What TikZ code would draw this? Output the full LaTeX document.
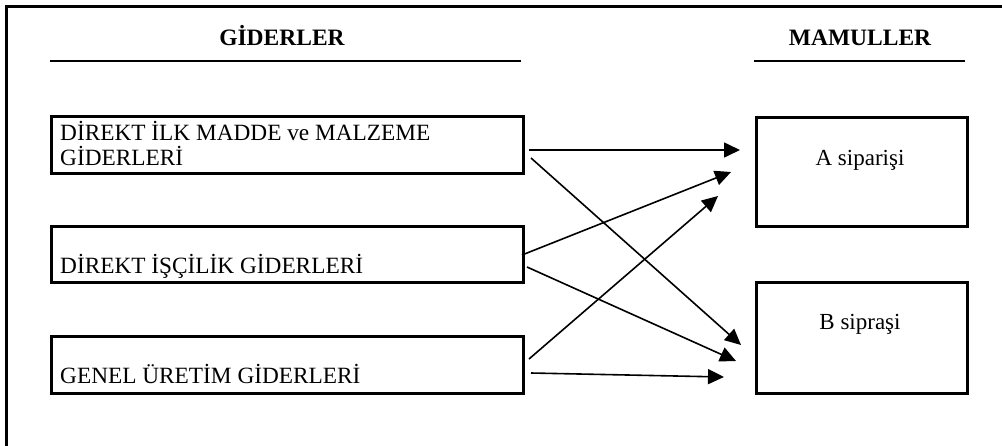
\documentclass[tikz,border=0pt]{standalone}
\usepackage{fontspec}
\setmainfont{Liberation Serif}
\usetikzlibrary{arrows.meta}
\tikzset{
  box/.style={draw, line width=2.8pt, inner sep=0pt},
  lbl/.style={inner sep=0pt, anchor=base west, font=\fontsize{23.3}{27}\selectfont},
  clbl/.style={inner sep=0pt, anchor=base, font=\fontsize{23}{27}\selectfont},
  head/.style={inner sep=0pt, anchor=base, font=\fontsize{23.5}{27}\selectfont\bfseries},
  rule/.style={line width=2pt},
  flow/.style={line width=1.6pt, -{Triangle[length=16pt,width=15pt]}},
}
\begin{document}
\begin{tikzpicture}[x=1pt,y=-1pt]
\useasboundingbox (0,0) rectangle (1002,445);
% frame
\draw[line width=3pt] (6.5,446) -- (6.5,6.5) -- (1003,6.5);

% headings
\node[head] (hg) at (282,45) {GİDERLER};
\node[head] (hm) at (860,45) {MAMULLER};
\draw[rule] (50,61) -- (521,61);
\draw[rule] (754,61) -- (965,61);

% cost boxes
\node[box, minimum width=472pt, minimum height=57pt, anchor=north west] (d1) at (50,115) {};
\node[box, minimum width=472pt, minimum height=56pt, anchor=north west] (d2) at (50,225) {};
\node[box, minimum width=472pt, minimum height=57pt, anchor=north west] (d3) at (50,335) {};
\node[lbl] (t1a) at (60,140) {DİREKT İLK MADDE ve MALZEME};
\node[lbl] (t1b) at (60,165.5) {GİDERLERİ};
\node[lbl] (t2) at (60,273) {DİREKT İŞÇİLİK GİDERLERİ};
\node[lbl] (t3) at (60,383) {GENEL ÜRETİM GİDERLERİ};

% product boxes
\node[box, line width=3pt, minimum width=211pt, minimum height=109pt, anchor=north west] (pa) at (755,116) {};
\node[box, line width=3pt, minimum width=211pt, minimum height=111pt, anchor=north west] (pb) at (755,281) {};
\node[clbl] (ta) at (860,165.5) {A siparişi};
\node[clbl] (tb) at (860,329) {B sipraşi};

% arrow end points
\coordinate (s1a) at (529,150);  \coordinate (e1a) at (740,150);
\coordinate (s1b) at (531,158);  \coordinate (e1b) at (741,345);
\coordinate (s2a) at (522,255);  \coordinate (e2a) at (731,172);
\coordinate (s2b) at (527,267);  \coordinate (e2b) at (736,361);
\coordinate (s3a) at (529,359);  \coordinate (e3a) at (718,196);
\coordinate (s3b) at (531,373);  \coordinate (e3b) at (724,377);

\draw[flow] (s1a) -- (e1a);
\draw[flow] (s1b) -- (e1b);
\draw[flow] (s2a) -- (e2a);
\draw[flow] (s2b) -- (e2b);
\draw[flow] (s3a) -- (e3a);
\draw[flow] (s3b) -- (e3b);
\end{tikzpicture}
\end{document}
